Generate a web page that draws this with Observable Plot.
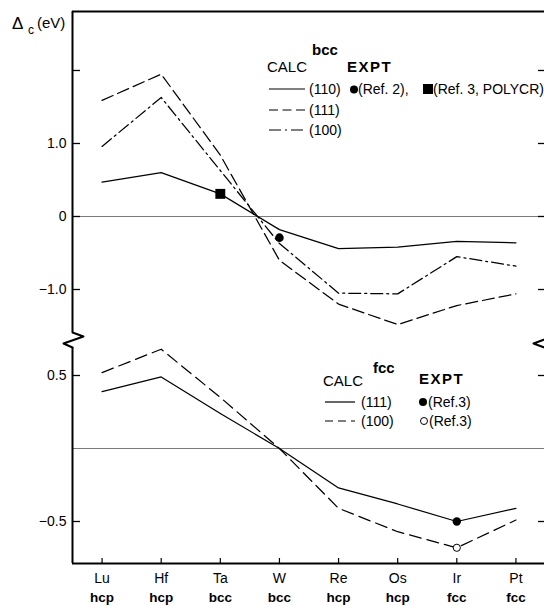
<!DOCTYPE html>
<html><head><meta charset="utf-8">
<script src="https://cdn.jsdelivr.net/npm/d3@7"></script>
<script src="https://cdn.jsdelivr.net/npm/@observablehq/plot@0.6"></script>
<style>
html,body{margin:0;padding:0;background:#fff;overflow:hidden;}
#wrap{position:relative;width:548px;height:606px;font-family:"Liberation Sans",Arial,sans-serif;}
#top,#bot{position:absolute;left:0;}
#top{top:0;} #bot{top:332px;}
#overlay{position:absolute;left:0;top:0;pointer-events:none;}
</style></head><body>
<div id="wrap"><div id="top"></div><div id="bot"></div>
<svg id="overlay" width="548" height="606" font-family="Liberation Sans, Arial, sans-serif" font-size="14">
  <!-- axis title -->
  <text x="12" y="29" font-size="17">Δ</text>
  <text x="28" y="34" font-size="12">c</text>
  <text x="37" y="28" font-size="15">(eV)</text>
  <!-- bcc legend -->
  <text x="312" y="55" font-size="15" font-weight="bold">bcc</text>
  <text x="267" y="72" font-size="15">CALC</text>
  <text x="347" y="72" font-size="15" font-weight="bold" letter-spacing="1.5">EXPT</text>
  <line x1="269" x2="305" y1="89" y2="89" stroke="#000" stroke-width="1.2"/>
  <text x="309" y="94">(110)</text>
  <circle cx="354" cy="89.5" r="4" fill="#000"/>
  <text x="358" y="94">(Ref. 2),</text>
  <rect x="423" y="84" width="10" height="10" fill="#000"/>
  <text x="433" y="94">(Ref. 3, POLYCR)</text>
  <line x1="269" x2="305" y1="110" y2="110" stroke="#000" stroke-width="1.2" stroke-dasharray="9,4.5"/>
  <text x="309" y="115">(111)</text>
  <line x1="269" x2="305" y1="130" y2="130" stroke="#000" stroke-width="1.2" stroke-dasharray="12,4,2,4"/>
  <text x="309" y="135">(100)</text>
  <!-- fcc legend -->
  <text x="373" y="373" font-size="15" font-weight="bold">fcc</text>
  <text x="323" y="386" font-size="15">CALC</text>
  <text x="419" y="384" font-size="15" font-weight="bold" letter-spacing="1.5">EXPT</text>
  <line x1="325" x2="355" y1="402" y2="402" stroke="#000" stroke-width="1.2"/>
  <text x="361" y="407">(111)</text>
  <circle cx="423" cy="402" r="4" fill="#000"/>
  <text x="428" y="407">(Ref.3)</text>
  <line x1="325" x2="355" y1="421" y2="421" stroke="#000" stroke-width="1.2" stroke-dasharray="8,5"/>
  <text x="361" y="426">(100)</text>
  <circle cx="424" cy="421" r="3.5" fill="#fff" stroke="#000" stroke-width="1"/>
  <text x="429" y="426">(Ref.3)</text>
</svg>
</div>
<script>
// ---- data ----
const elements   = ["Lu", "Hf", "Ta", "W", "Re", "Os", "Ir", "Pt"];
const structures = ["hcp", "hcp", "bcc", "bcc", "hcp", "hcp", "fcc", "fcc"];
// bcc-panel calculated core-level shifts (eV)
const bcc110 = [0.47, 0.60, 0.31, -0.18, -0.44, -0.42, -0.34, -0.36];
const bcc111 = [1.59, 1.95, 0.84, -0.60, -1.20, -1.48, -1.22, -1.06];
const bcc100 = [0.96, 1.63, 0.63, -0.37, -1.05, -1.06, -0.55, -0.68];
// bcc-panel experiments
const bccRef2El = ["W"];  const bccRef2Val = [-0.29];
const bccRef3El = ["Ta"]; const bccRef3Val = [0.31];
// fcc-panel calculated
const fcc111 = [0.39, 0.49, 0.24, 0.00, -0.27, -0.38, -0.50, -0.41];
const fcc100 = [0.52, 0.68, 0.35, 0.00, -0.41, -0.57, -0.68, -0.49];
// fcc-panel experiments
const fccRef3FilledEl = ["Ir"]; const fccRef3FilledVal = [-0.50];
const fccRef3OpenEl   = ["Ir"]; const fccRef3OpenVal   = [-0.68];
// axis ticks
const topTicks = [2, 1, 0, -1];
const topTickLabels = [1, 0, -1];
const botTicks = [0.5, -0.5];

// ---- layout helpers ----
const X0 = -0.5, X1 = elements.length - 0.5;
const W = 548, ML = 72, MR = 3;
const pxX = (W - ML - MR) / (X1 - X0);
const xIdx = elements.map((d, i) => i);
const idx = el => elements.indexOf(el);
const fmt = d => d === 0 ? "0" : (d < 0 ? "\u2212" : "") + Math.abs(d).toFixed(1);
const style = {fontFamily: "Liberation Sans, Arial, sans-serif", fontSize: "14px", background: "transparent", overflow: "visible"};

// top panel: 72.8 px per eV
const topDom = [-1.589, 2.808];
const lineOpts = {x: (d, i) => i, y: d => d, stroke: "#000", strokeWidth: 1.25};

const topPlot = Plot.plot({
  width: W, height: 332, marginLeft: ML, marginRight: MR, marginTop: 11, marginBottom: 0,
  style,
  x: {domain: [X0, X1], axis: null},
  y: {domain: topDom, axis: null},
  marks: [
    Plot.ruleY([0], {stroke: "#7a7a7a", strokeWidth: 1}),
    Plot.line(bcc110, lineOpts),
    Plot.line(bcc111, {...lineOpts, strokeDasharray: "12,5"}),
    Plot.line(bcc100, {...lineOpts, strokeDasharray: "12,4,2,4"}),
    Plot.dot(bccRef3El, {x: d => idx(d), y: (d, i) => bccRef3Val[i], symbol: "square", r: 5.6, fill: "#000"}),
    Plot.dot(bccRef2El, {x: d => idx(d), y: (d, i) => bccRef2Val[i], r: 4.3, fill: "#000"}),
    Plot.axisY(topTickLabels, {anchor: "left", tickSize: 0, tickPadding: 6, tickFormat: fmt, fontSize: 14}),
    Plot.ruleY(topTicks, {x1: X0, x2: X0 + 8 / pxX, stroke: "#000", strokeWidth: 1.3}),
    Plot.ruleY(topTicks, {x1: X1 - 7 / pxX, x2: X1, stroke: "#000", strokeWidth: 1.3}),
    Plot.ruleX([X0, X1], {stroke: "#000", strokeWidth: 2}),
    Plot.ruleY([topDom[1]], {stroke: "#000", strokeWidth: 2})
  ]
});
document.getElementById("top").appendChild(topPlot);

// bottom panel: 146 px per eV
const botDom = [-0.7877, 0.6918];
const botPxY = (563 - 347) / (botDom[1] - botDom[0]);
const yb = botDom[1];
const zigL = [[X0, yb + 15 / botPxY], [X0 + 11 / pxX, yb + 11 / botPxY], [X0 - 9 / pxX, yb + 4 / botPxY], [X0, yb]];
const zigR = [[X1, yb + 15 / botPxY], [X1 + 10 / pxX, yb + 12 / botPxY], [X1 - 12 / pxX, yb + 4 / botPxY], [X1, yb - 0.5 / botPxY]];

const botPlot = Plot.plot({
  width: W, height: 274, marginLeft: ML, marginRight: MR, marginTop: 15, marginBottom: 43,
  style,
  x: {domain: [X0, X1], axis: null},
  y: {domain: botDom, axis: null},
  marks: [
    Plot.ruleY([0], {stroke: "#7a7a7a", strokeWidth: 1}),
    Plot.line(fcc111, lineOpts),
    Plot.line(fcc100, {...lineOpts, strokeDasharray: "12,6"}),
    Plot.dot(fccRef3FilledEl, {x: d => idx(d), y: (d, i) => fccRef3FilledVal[i], r: 4.2, fill: "#000"}),
    Plot.dot(fccRef3OpenEl, {x: d => idx(d), y: (d, i) => fccRef3OpenVal[i], r: 3.6, fill: "#fff", stroke: "#000", strokeWidth: 1}),
    Plot.axisY(botTicks, {anchor: "left", tickSize: 0, tickPadding: 6, tickFormat: fmt, fontSize: 14}),
    Plot.ruleY(botTicks, {x1: X0, x2: X0 + 8 / pxX, stroke: "#000", strokeWidth: 1.3}),
    Plot.ruleY(botTicks, {x1: X1 - 7 / pxX, x2: X1, stroke: "#000", strokeWidth: 1.3}),
    Plot.axisX(xIdx, {anchor: "bottom", tickSize: 0, tickPadding: 10, tickFormat: i => elements[i], fontSize: 14}),
    Plot.text(xIdx, {x: d => d, text: d => structures[d], frameAnchor: "bottom", lineAnchor: "middle", dy: 34, fontWeight: "bold", fontSize: 13.5}),
    Plot.ruleX(xIdx, {y1: botDom[0], y2: botDom[0] + 5 / botPxY, stroke: "#000", strokeWidth: 1.2}),
    Plot.ruleX([X0, X1], {stroke: "#000", strokeWidth: 2}),
    Plot.ruleY([botDom[0]], {stroke: "#000", strokeWidth: 2}),
    Plot.line(zigL, {x: d => d[0], y: d => d[1], stroke: "#000", strokeWidth: 2}),
    Plot.line(zigR, {x: d => d[0], y: d => d[1], stroke: "#000", strokeWidth: 2})
  ]
});
document.getElementById("bot").appendChild(botPlot);
</script>
</body></html>
